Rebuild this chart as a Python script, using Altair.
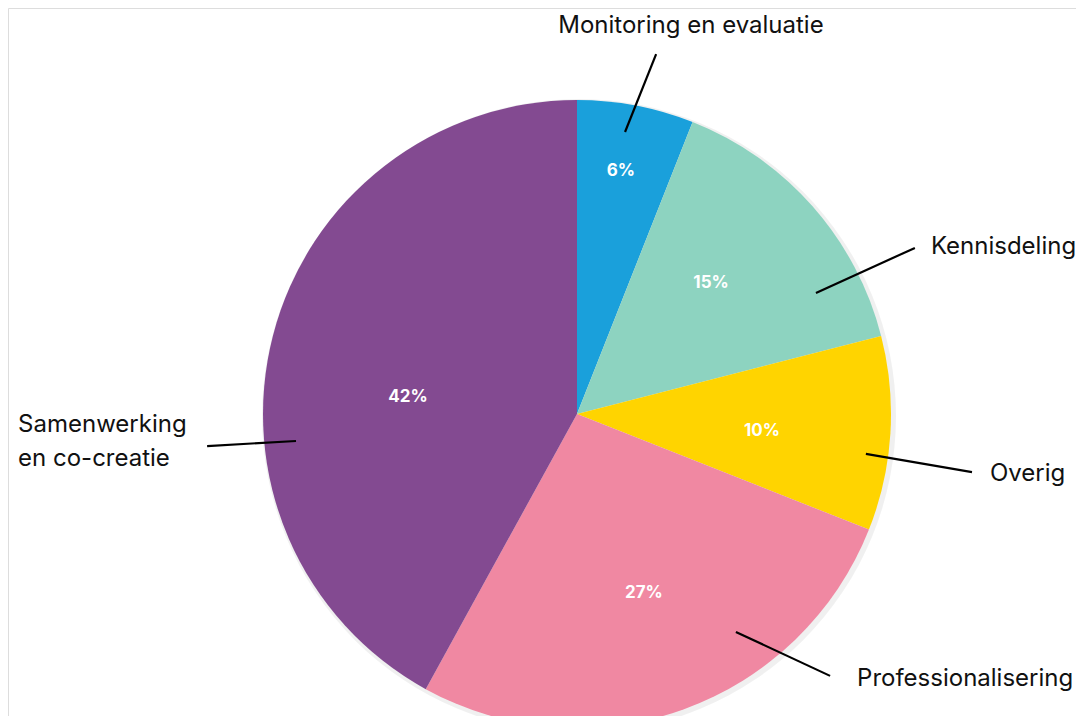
import altair as alt
import pandas as pd

# ---- data ----
categories = ["Monitoring en evaluatie", "Kennisdeling", "Overig",
              "Professionalisering", "Samenwerking en co-creatie"]
values = [6, 15, 10, 27, 42]
colors = ["#1AA0DB", "#8DD3C0", "#FFD400", "#F088A2", "#834A91"]
display_labels = ["Monitoring en evaluatie", "Kennisdeling", "Overig",
                  "Professionalisering", "Samenwerking\nen co-creatie"]

# ---- layout (unit coords: pie radius = 1, centre = 0,0) ----
pct_pos = [(0.140, 0.774), (0.427, 0.417), (0.589, -0.054), (0.213, -0.570), (-0.538, 0.054)]
lead_in = [(0.153, 0.898), (0.761, 0.385), (0.920, -0.127), (0.506, -0.694), (-0.895, -0.086)]
lead_out = [(0.252, 1.146), (1.076, 0.529), (1.258, -0.185), (0.806, -0.834), (-1.178, -0.102)]
lab_pos = [(0.363, 1.213), (1.127, 0.532), (1.315, -0.191), (0.892, -0.844), (-1.780, -0.035)]
lab_align = ["center", "left", "left", "left", "left"]

W, H = 1068, 708
CX, CY, R = 569, 406, 314
xdom = [-CX / R, (W - CX) / R]
ydom = [(CY - H) / R, CY / R]

df = pd.DataFrame({
    "cat": categories, "value": values, "order": list(range(len(values))),
    "pct": [f"{v}%" for v in values],
    "px": [p[0] for p in pct_pos], "py": [p[1] for p in pct_pos],
})
lead = pd.DataFrame({
    "x": [p[0] for p in lead_in], "y": [p[1] for p in lead_in],
    "x2": [p[0] for p in lead_out], "y2": [p[1] for p in lead_out],
})
labs = pd.DataFrame({
    "label": display_labels, "x": [p[0] for p in lab_pos], "y": [p[1] for p in lab_pos],
    "align": lab_align,
})

xs = alt.Scale(domain=xdom, range=[0, W], nice=False, zero=False)
ys = alt.Scale(domain=ydom, range=[H, 0], nice=False, zero=False)
noax = None

base = alt.Chart(df)

shadow = alt.Chart(pd.DataFrame({"a": [0]})).mark_arc(
    outerRadius=R + 3, theta=0, theta2=6.2832, color="#000000", opacity=0.06,
    xOffset=2, yOffset=2
).encode(x=alt.datum(0, scale=xs, axis=noax), y=alt.datum(0, scale=ys, axis=noax))

pie = base.mark_arc(outerRadius=R, strokeWidth=0).encode(
    theta=alt.Theta("value:Q", stack=True),
    order=alt.Order("order:Q"),
    color=alt.Color("cat:N", scale=alt.Scale(domain=categories, range=colors), legend=None),
    x=alt.datum(0, scale=xs, axis=noax),
    y=alt.datum(0, scale=ys, axis=noax),
)

pct = base.mark_text(font="Inter", fontSize=17, fontWeight="bold", color="white").encode(
    x=alt.X("px:Q", scale=xs, axis=noax), y=alt.Y("py:Q", scale=ys, axis=noax),
    text="pct:N",
)

leaders = alt.Chart(lead).mark_rule(color="black", strokeWidth=2.2).encode(
    x=alt.X("x:Q", scale=xs, axis=noax), y=alt.Y("y:Q", scale=ys, axis=noax),
    x2="x2:Q", y2="y2:Q",
)

top_lab = alt.Chart(labs[labs["align"] == "center"]).mark_text(
    font="Inter", fontSize=24, color="#111111", align="center", baseline="alphabetic",
).encode(x=alt.X("x:Q", scale=xs, axis=noax), y=alt.Y("y:Q", scale=ys, axis=noax), text="label:N")

side_lab = alt.Chart(labs[labs["align"] == "left"]).mark_text(
    font="Inter", fontSize=24, color="#111111", align="left", baseline="middle",
    lineBreak="\n", lineHeight=34,
).encode(x=alt.X("x:Q", scale=xs, axis=noax), y=alt.Y("y:Q", scale=ys, axis=noax), text="label:N")

chart = alt.layer(shadow, pie, pct, leaders, top_lab, side_lab).properties(
    width=W, height=H, padding=0, autosize=alt.AutoSizeParams(type="none")
).configure_view(strokeWidth=0, stroke="transparent").configure(background="white")

chart.save("out.html", embed_options={"renderer": "svg", "actions": False})
